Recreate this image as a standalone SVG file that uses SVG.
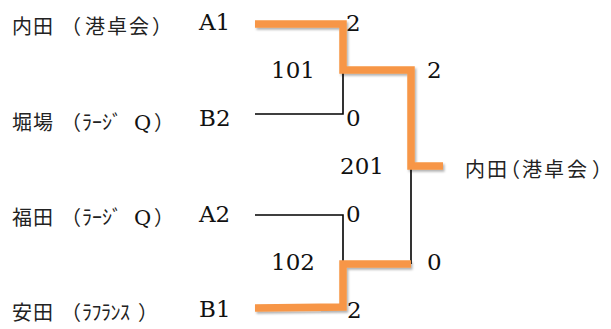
<svg xmlns="http://www.w3.org/2000/svg" width="611" height="329" viewBox="0 0 611 329">
<style>
.jp{font-family:"Noto Sans CJK JP","Noto Sans",sans-serif;font-size:20px;fill:#222}
.q{font-family:"DejaVu Serif","Liberation Serif",serif;font-size:21px;fill:#111}
.sd{font-family:"DejaVu Serif","Liberation Serif",serif;font-size:23px;fill:#111}
.sc{font-family:"DejaVu Serif","Liberation Serif",serif;font-size:23px;fill:#111}
.win{fill:none;stroke:#F79646;stroke-width:7.5;stroke-linejoin:miter;filter:url(#sh)}
.lose{fill:none;stroke:#000;stroke-width:1.6}
</style>
<defs>
<filter id="sh" x="-10%" y="-10%" width="130%" height="130%">
<feDropShadow dx="1.5" dy="2" stdDeviation="1.2" flood-color="#000" flood-opacity="0.3"/>
</filter>
</defs>
<rect width="611" height="329" fill="#fff"/>
<g id="connectors">
<polyline class="lose" points="255,114 343,114 343,70"/>
<polyline class="lose" points="255,215 343,215 343,264"/>
<polyline class="lose" points="411,264 411,166"/>
<polyline class="win" points="255,24 343,24 343,70 411,70 411,166 443,166"/>
<polyline class="win" points="255,308 343,307 343,264 411,264"/>
</g>
<g id="team-uchida">
<text class="jp" y="34" x="12 33 61 85 107 129 152">内田（港卓会）</text>
</g>
<g id="team-horiba">
<text class="jp" y="130"><tspan x="12 33 61 82 92 102 112">堀場（ﾗｰｼﾞ</tspan><tspan class="q" x="134">Q</tspan><tspan x="154">）</tspan></text>
</g>
<g id="team-fukuda">
<text class="jp" y="225"><tspan x="12 33 61 82 92 102 112">福田（ﾗｰｼﾞ</tspan><tspan class="q" x="134">Q</tspan><tspan x="154">）</tspan></text>
</g>
<g id="team-yasuda">
<text class="jp" y="320" x="12 33 61 82 91.5 101 110.5 120 138">安田（ﾗﾌﾗﾝｽ）</text>
</g>
<g id="seed-A1"><text class="sd" x="199" y="30">A1</text></g>
<g id="seed-B2"><text class="sd" x="199" y="126">B2</text></g>
<g id="seed-A2"><text class="sd" x="199" y="222">A2</text></g>
<g id="seed-B1"><text class="sd" x="199" y="317">B1</text></g>
<g id="match-101"><text class="sc" x="271" y="78">101</text></g>
<g id="match-102"><text class="sc" x="271" y="270">102</text></g>
<g id="match-201"><text class="sc" x="340" y="174">201</text></g>
<g id="scores">
<text class="sc" x="346" y="31">2</text>
<text class="sc" x="346" y="126">0</text>
<text class="sc" x="427" y="78">2</text>
<text class="sc" x="346" y="222">0</text>
<text class="sc" x="427" y="270">0</text>
<text class="sc" x="347" y="318">2</text>
</g>
<g id="winner">
<text class="jp" y="177" x="465 487 500 522 544 567 592">内田（港卓会）</text>
</g>
</svg>
